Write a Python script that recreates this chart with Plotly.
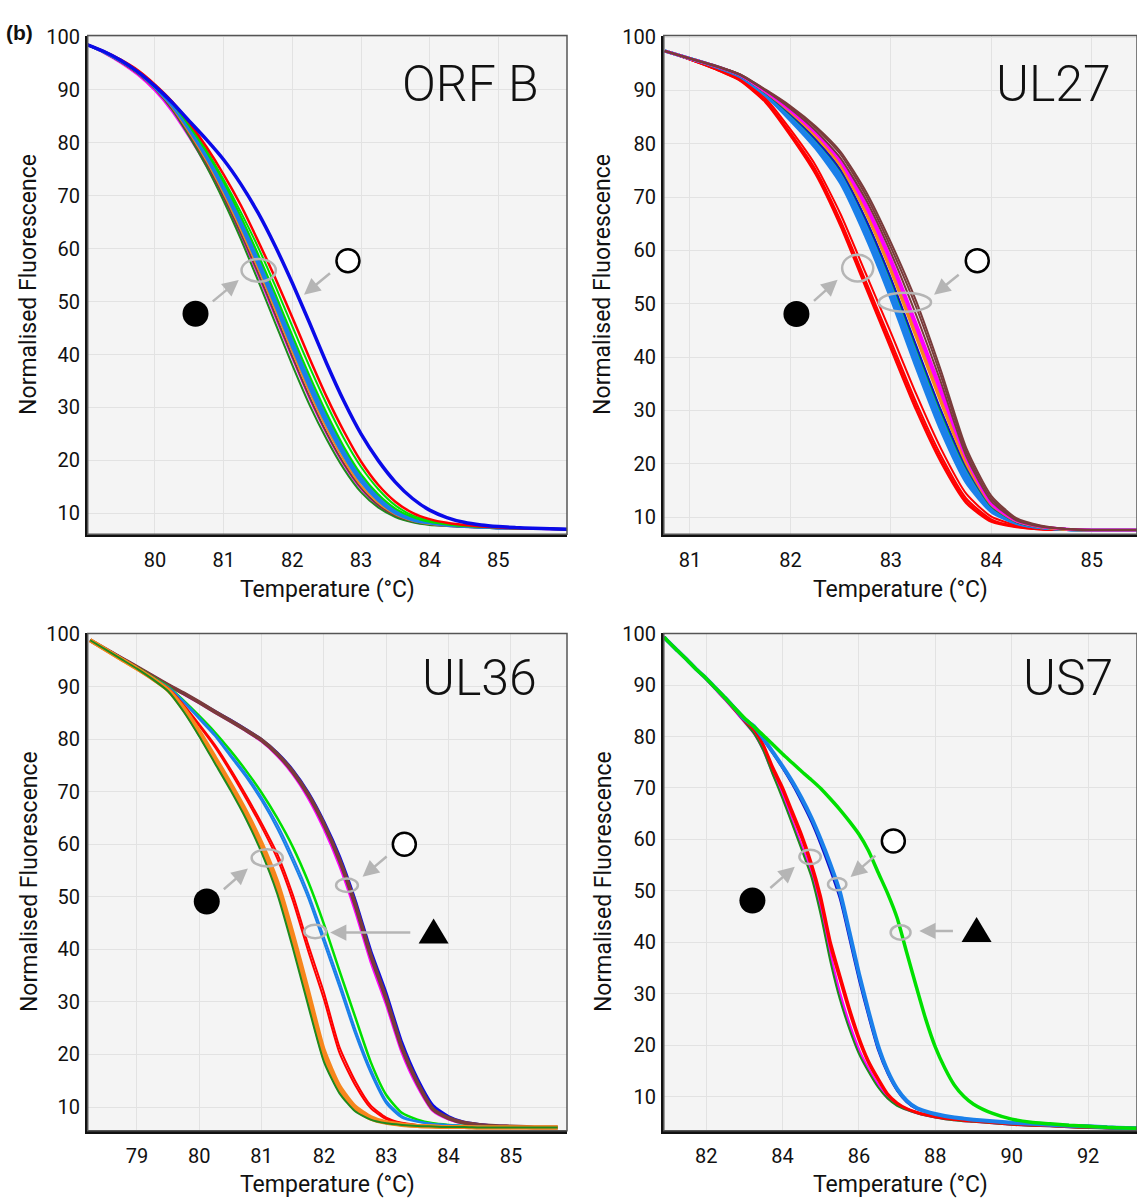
import plotly.graph_objects as go

# ---------------- DATA ----------------
# Panel 1: ORF B
orfb_temp = [79.0, 79.25, 79.5, 79.75, 80.0, 80.25, 80.5, 80.75, 81.0, 81.25, 81.5, 81.75, 82.0, 82.25, 82.5,
             82.75, 83.0, 83.25, 83.5, 83.75, 84.0, 84.25, 84.5, 84.75, 85.0, 85.25, 85.5, 85.75, 86.0]
orfb_magenta = [98.6, 97.0, 95.1, 92.8, 89.8, 85.9, 81.0, 75.6, 69.4, 62.5, 55.1, 47.2, 39.3, 31.7, 25.0, 19.2, 14.6, 11.4, 9.5, 8.4, 7.9, 7.6, 7.4, 7.3, 7.2, 7.1, 7.1, 7.0, 7.0]
orfb_forestgreen = [98.6, 97.1, 95.3, 93.1, 90.2, 86.3, 81.2, 75.5, 69.0, 61.8, 54.0, 46.0, 38.0, 30.5, 24.0, 18.4, 14.0, 11.1, 9.3, 8.3, 7.8, 7.6, 7.4, 7.3, 7.2, 7.2, 7.1, 7.1, 7.0]
orfb_brown = [98.6, 97.1, 95.3, 93.1, 90.2, 86.5, 81.6, 76.1, 69.8, 62.9, 55.5, 47.6, 39.6, 32.0, 25.2, 19.4, 14.8, 11.6, 9.6, 8.5, 8.0, 7.7, 7.5, 7.3, 7.2, 7.2, 7.1, 7.1, 7.0]
orfb_orange = [98.6, 97.1, 95.4, 93.2, 90.3, 86.7, 81.9, 76.6, 70.4, 63.6, 56.3, 48.5, 40.5, 32.9, 26.0, 20.1, 15.3, 12.0, 9.8, 8.6, 8.0, 7.7, 7.5, 7.3, 7.2, 7.2, 7.1, 7.1, 7.0]
orfb_dodger1 = [98.6, 97.2, 95.4, 93.3, 90.4, 86.9, 82.3, 77.1, 71.0, 64.3, 57.0, 49.3, 41.3, 33.7, 26.8, 20.8, 15.9, 12.4, 10.0, 8.7, 8.1, 7.7, 7.5, 7.3, 7.2, 7.2, 7.1, 7.1, 7.0]
orfb_dodger2 = [98.6, 97.2, 95.5, 93.4, 90.5, 87.1, 82.6, 77.5, 71.5, 64.9, 57.7, 50.0, 42.1, 34.5, 27.5, 21.4, 16.4, 12.8, 10.3, 8.9, 8.2, 7.8, 7.5, 7.3, 7.2, 7.2, 7.1, 7.1, 7.0]
orfb_dodger3 = [98.6, 97.2, 95.5, 93.4, 90.6, 87.2, 82.8, 77.8, 71.9, 65.4, 58.3, 50.7, 42.8, 35.2, 28.2, 22.0, 16.9, 13.2, 10.6, 9.1, 8.3, 7.8, 7.6, 7.4, 7.3, 7.2, 7.1, 7.1, 7.0]
orfb_lime1 = [98.6, 97.3, 95.6, 93.6, 90.8, 87.5, 83.2, 78.3, 72.6, 66.1, 59.0, 51.5, 43.6, 36.0, 28.9, 22.6, 17.4, 13.6, 10.9, 9.3, 8.4, 7.9, 7.6, 7.4, 7.3, 7.2, 7.1, 7.1, 7.0]
orfb_lime2 = [98.6, 97.3, 95.6, 93.6, 90.9, 87.6, 83.4, 78.6, 73.0, 66.9, 60.3, 53.0, 45.3, 37.7, 30.6, 24.2, 18.8, 14.6, 11.5, 9.6, 8.6, 8.0, 7.7, 7.5, 7.3, 7.2, 7.1, 7.1, 7.0]
orfb_red = [98.6, 97.3, 95.7, 93.7, 91.0, 87.8, 83.8, 79.2, 74.0, 68.2, 61.5, 54.5, 47.0, 39.3, 32.0, 25.5, 19.8, 15.4, 12.2, 10.1, 8.9, 8.2, 7.8, 7.5, 7.3, 7.2, 7.1, 7.1, 7.0]
orfb_blue = [98.6, 97.3, 95.6, 93.4, 90.7, 87.6, 84.1, 80.6, 76.8, 72.2, 66.8, 60.5, 53.5, 46.0, 38.3, 31.2, 25.0, 20.0, 15.9, 12.8, 10.6, 9.2, 8.3, 7.8, 7.5, 7.3, 7.2, 7.1, 7.0]

# Panel 2: UL27
ul27_temp = [80.75, 81.0, 81.25, 81.5, 81.75, 82.0, 82.25, 82.5, 82.75, 83.0, 83.25, 83.5, 83.75, 84.0, 84.25,
             84.5, 84.75, 85.0, 85.25, 85.5]
ul27_red1 = [97.4, 95.8, 94.0, 91.8, 87.8, 81.5, 74.3, 64.5, 53.0, 41.5, 30.1, 20.2, 12.6, 9.1, 8.1, 7.7, 7.6, 7.6, 7.6, 7.6]
ul27_red2 = [97.4, 95.8, 94.0, 91.9, 88.0, 81.8, 74.7, 65.0, 53.6, 42.2, 30.8, 20.8, 13.0, 9.3, 8.2, 7.7, 7.6, 7.6, 7.6, 7.6]
ul27_red3 = [97.4, 95.8, 94.1, 92.0, 88.2, 82.1, 75.2, 65.6, 54.3, 43.0, 31.6, 21.5, 13.5, 9.6, 8.3, 7.8, 7.6, 7.6, 7.6, 7.6]
ul27_red4 = [97.4, 95.9, 94.2, 92.2, 88.6, 82.7, 76.0, 66.8, 55.7, 44.6, 33.2, 22.8, 14.4, 10.1, 8.5, 7.8, 7.6, 7.6, 7.6, 7.6]
ul27_dodger1 = [97.4, 96.0, 94.5, 92.6, 89.1, 84.4, 79.2, 72.6, 62.6, 51.0, 38.2, 26.2, 16.5, 11.0, 8.8, 8.0, 7.7, 7.6, 7.6, 7.6]
ul27_dodger2 = [97.4, 96.0, 94.5, 92.7, 89.3, 84.8, 79.7, 73.3, 63.4, 52.0, 39.2, 27.1, 17.1, 11.4, 8.9, 8.0, 7.7, 7.6, 7.6, 7.6]
ul27_dodger3 = [97.4, 96.0, 94.6, 92.8, 89.4, 85.1, 80.1, 73.9, 64.2, 52.9, 40.2, 28.0, 17.8, 11.8, 9.1, 8.1, 7.7, 7.6, 7.6, 7.6]
ul27_dodger4 = [97.4, 96.0, 94.6, 92.8, 89.5, 85.3, 80.5, 74.5, 65.0, 53.8, 41.2, 28.9, 18.5, 11.9, 9.0, 8.1, 7.7, 7.6, 7.6, 7.6]
ul27_lime = [97.4, 96.0, 94.6, 92.8, 89.6, 85.5, 80.8, 75.0, 65.8, 54.6, 42.0, 29.7, 19.2, 12.0, 9.1, 8.1, 7.7, 7.6, 7.6, 7.6]
ul27_darkblue = [97.4, 96.0, 94.6, 92.8, 89.6, 85.6, 80.9, 75.1, 65.9, 54.8, 42.3, 30.0, 19.4, 12.1, 9.1, 8.1, 7.7, 7.6, 7.6, 7.6]
ul27_orange1 = [97.4, 96.0, 94.6, 92.9, 89.7, 85.9, 81.4, 75.8, 67.0, 56.1, 43.8, 31.4, 20.0, 12.3, 9.2, 8.1, 7.7, 7.6, 7.6, 7.6]
ul27_orange2 = [97.4, 96.0, 94.6, 92.9, 89.8, 86.1, 81.7, 76.2, 67.6, 56.9, 44.7, 32.3, 20.6, 12.6, 9.3, 8.2, 7.7, 7.6, 7.6, 7.6]
ul27_magenta1 = [97.4, 96.0, 94.6, 92.9, 89.8, 86.2, 82.0, 76.6, 68.2, 57.7, 45.6, 33.2, 21.0, 12.5, 9.3, 8.2, 7.8, 7.6, 7.6, 7.6]
ul27_magenta2 = [97.4, 96.0, 94.6, 92.9, 89.9, 86.4, 82.3, 77.0, 68.8, 58.5, 46.5, 34.1, 21.6, 12.8, 9.4, 8.2, 7.8, 7.6, 7.6, 7.6]
ul27_brown1 = [97.4, 96.0, 94.6, 92.9, 90.0, 86.6, 82.5, 77.3, 69.6, 59.6, 48.0, 35.2, 21.5, 13.0, 9.4, 8.2, 7.8, 7.6, 7.6, 7.6]
ul27_brown2 = [97.4, 96.0, 94.6, 93.0, 90.1, 86.9, 83.0, 78.0, 70.4, 60.6, 49.5, 36.4, 22.3, 13.5, 9.6, 8.3, 7.8, 7.6, 7.6, 7.6]
ul27_brown3 = [97.4, 96.0, 94.7, 93.0, 90.2, 87.1, 83.3, 78.5, 71.1, 61.5, 50.6, 37.4, 23.0, 14.0, 9.8, 8.4, 7.8, 7.6, 7.6, 7.6]

# Panel 3: UL36
ul36_temp = [78.25, 78.5, 78.75, 79.0, 79.25, 79.5, 79.75, 80.0, 80.25, 80.5, 80.75, 81.0, 81.25, 81.5, 81.75,
             82.0, 82.25, 82.5, 82.75, 83.0, 83.25, 83.5, 83.75, 84.0, 84.25, 84.5, 84.75, 85.0, 85.25, 85.5, 85.75]
ul36_magenta = [98.8, 97.1, 95.4, 93.7, 92.0, 90.3, 88.6, 86.9, 85.1, 83.4, 81.6, 79.6, 76.9, 73.4, 68.8, 63.0, 56.0, 47.5, 37.8, 29.6, 20.5, 14.0, 9.3, 7.7, 6.9, 6.6, 6.4, 6.3, 6.2, 6.1, 6.1]
ul36_blue = [98.8, 97.1, 95.4, 93.7, 92.0, 90.3, 88.7, 87.0, 85.3, 83.6, 81.8, 79.9, 77.4, 74.1, 69.8, 64.3, 57.7, 49.4, 39.8, 31.6, 22.3, 15.4, 10.3, 8.2, 7.1, 6.7, 6.4, 6.3, 6.2, 6.1, 6.1]
ul36_maroon = [98.8, 97.1, 95.4, 93.7, 92.0, 90.3, 88.7, 87.0, 85.2, 83.5, 81.7, 79.8, 77.2, 73.8, 69.4, 63.8, 57.0, 48.6, 38.9, 30.6, 21.3, 14.6, 9.6, 7.9, 7.0, 6.6, 6.4, 6.3, 6.2, 6.1, 6.1]
ul36_lime = [98.8, 97.0, 95.2, 93.6, 91.8, 90.0, 87.3, 84.4, 81.3, 77.8, 74.0, 69.8, 65.0, 59.5, 52.8, 44.8, 35.9, 27.2, 18.6, 12.3, 8.9, 7.6, 6.9, 6.6, 6.4, 6.3, 6.2, 6.2, 6.1, 6.1, 6.1]
ul36_dodger1 = [98.8, 97.0, 95.2, 93.5, 91.7, 89.8, 87.0, 83.8, 80.6, 76.7, 72.8, 68.3, 63.0, 56.7, 49.7, 41.3, 32.8, 24.0, 16.5, 10.7, 8.0, 7.2, 6.8, 6.6, 6.4, 6.3, 6.2, 6.2, 6.1, 6.1, 6.1]
ul36_dodger2 = [98.8, 97.0, 95.2, 93.5, 91.7, 89.9, 87.2, 84.1, 80.9, 77.1, 73.3, 68.9, 63.8, 57.6, 50.6, 42.3, 33.8, 24.9, 17.2, 11.2, 8.3, 7.3, 6.8, 6.6, 6.4, 6.3, 6.2, 6.2, 6.1, 6.1, 6.1]
ul36_red1 = [98.8, 97.0, 95.2, 93.4, 91.6, 89.6, 86.3, 82.5, 78.5, 73.8, 68.7, 63.3, 57.3, 49.3, 39.6, 30.5, 20.3, 14.2, 9.8, 7.7, 6.9, 6.5, 6.3, 6.2, 6.2, 6.1, 6.1, 6.1, 6.1, 6.1, 6.1]
ul36_red2 = [98.8, 97.0, 95.2, 93.4, 91.6, 89.7, 86.5, 82.8, 78.9, 74.3, 69.3, 64.0, 58.2, 50.4, 40.8, 31.8, 21.4, 15.0, 10.3, 8.0, 7.0, 6.6, 6.3, 6.2, 6.2, 6.1, 6.1, 6.1, 6.1, 6.1, 6.1]
ul36_orange1 = [98.8, 97.0, 95.2, 93.4, 91.5, 89.3, 85.6, 81.0, 76.0, 71.0, 65.6, 59.3, 51.8, 41.7, 30.5, 19.5, 13.2, 9.6, 7.8, 7.0, 6.6, 6.4, 6.3, 6.2, 6.2, 6.1, 6.1, 6.1, 6.1, 6.1, 6.1]
ul36_orange2 = [98.8, 97.0, 95.2, 93.4, 91.5, 89.4, 85.9, 81.5, 76.6, 71.6, 66.3, 60.2, 52.9, 43.0, 32.0, 20.8, 14.0, 10.1, 8.1, 7.1, 6.7, 6.4, 6.3, 6.2, 6.2, 6.1, 6.1, 6.1, 6.1, 6.1, 6.1]
ul36_forestgreen = [98.8, 97.0, 95.2, 93.4, 91.4, 89.1, 85.2, 80.5, 75.4, 70.3, 64.8, 58.4, 50.6, 40.3, 29.2, 18.6, 12.6, 9.2, 7.6, 6.9, 6.6, 6.4, 6.3, 6.2, 6.2, 6.1, 6.1, 6.1, 6.1, 6.1, 6.1]

# Panel 4: US7
us7_temp = [80.9, 81.0, 81.25, 81.5, 81.75, 82.0, 82.25, 82.5, 82.75, 83.0, 83.25, 83.5, 83.75, 84.0, 84.25,
            84.5, 84.75, 85.0, 85.25, 85.5, 85.75, 86.0, 86.25, 86.5, 86.75, 87.0, 87.25, 87.5, 87.75, 88.0,
            88.25, 88.5, 88.75, 89.0, 89.5, 90.0, 90.5, 91.0, 91.5, 92.0, 92.5, 93.0, 93.5]
us7_magenta = [99.3, 98.5, 96.7, 94.9, 93.0, 91.2, 89.2, 87.2, 85.1, 82.9, 80.7, 77.4, 72.8, 68.8, 63.5, 58.6, 53.6, 46.4, 37.5, 30.0, 24.0, 19.0, 15.3, 12.2, 9.8, 8.4, 7.5, 6.9, 6.4, 6.0, 5.7, 5.5, 5.3, 5.2, 4.9, 4.6, 4.4, 4.3, 4.1, 4.0, 3.9, 3.8, 3.7]
us7_forestgreen = [99.3, 98.5, 96.7, 94.9, 93.0, 91.2, 89.2, 87.2, 85.1, 82.9, 80.6, 77.2, 72.5, 67.9, 63.0, 58.0, 52.8, 45.3, 36.3, 28.9, 23.1, 18.3, 14.8, 11.8, 9.6, 8.2, 7.4, 6.8, 6.3, 5.9, 5.6, 5.4, 5.2, 5.1, 4.8, 4.5, 4.3, 4.2, 4.0, 3.9, 3.8, 3.7, 3.6]
us7_red1 = [99.3, 98.5, 96.7, 94.9, 93.0, 91.2, 89.2, 87.3, 85.2, 83.1, 81.4, 78.4, 74.0, 70.2, 65.6, 61.0, 55.6, 49.0, 40.3, 33.7, 27.3, 21.6, 17.0, 13.6, 10.6, 8.8, 7.7, 7.0, 6.5, 6.1, 5.8, 5.6, 5.4, 5.3, 5.0, 4.7, 4.5, 4.3, 4.2, 4.1, 4.0, 3.9, 3.8]
us7_red2 = [99.3, 98.5, 96.7, 94.9, 93.0, 91.2, 89.2, 87.3, 85.2, 83.1, 81.3, 78.1, 73.5, 69.6, 64.9, 60.2, 54.8, 48.0, 39.3, 32.7, 26.4, 20.9, 16.5, 13.2, 10.3, 8.6, 7.6, 6.9, 6.4, 6.0, 5.7, 5.5, 5.3, 5.2, 4.9, 4.6, 4.4, 4.3, 4.1, 4.0, 3.9, 3.8, 3.7]
us7_brown = [99.3, 98.5, 96.7, 94.9, 93.0, 91.3, 89.4, 87.5, 85.5, 83.4, 81.9, 79.5, 76.8, 74.0, 71.0, 67.6, 63.8, 59.4, 54.5, 49.0, 41.2, 33.2, 26.0, 19.4, 14.7, 11.3, 9.0, 7.7, 7.1, 6.6, 6.2, 5.9, 5.7, 5.5, 5.2, 5.0, 4.8, 4.6, 4.4, 4.3, 4.1, 4.0, 3.9]
us7_darkblue = [99.3, 98.5, 96.7, 94.9, 93.0, 91.3, 89.4, 87.5, 85.5, 83.4, 81.8, 79.3, 76.6, 73.8, 70.7, 67.2, 63.4, 58.9, 53.9, 48.4, 40.6, 32.6, 25.5, 19.0, 14.4, 11.1, 8.9, 7.6, 7.0, 6.5, 6.1, 5.9, 5.7, 5.5, 5.2, 4.9, 4.7, 4.5, 4.3, 4.2, 4.0, 3.9, 3.8]
us7_dodger = [99.3, 98.5, 96.7, 94.9, 93.0, 91.3, 89.4, 87.5, 85.5, 83.4, 82.0, 79.6, 76.9, 74.2, 71.3, 68.0, 64.3, 60.0, 55.2, 49.8, 42.0, 33.9, 26.6, 19.9, 15.0, 11.5, 9.2, 7.8, 7.1, 6.6, 6.2, 5.9, 5.7, 5.5, 5.2, 4.9, 4.7, 4.5, 4.3, 4.2, 4.0, 3.9, 3.8]
us7_lime = [99.3, 98.5, 96.7, 94.9, 93.0, 91.3, 89.4, 87.5, 85.5, 83.6, 81.9, 80.2, 78.4, 76.6, 74.9, 73.2, 71.6, 69.9, 67.9, 65.8, 63.5, 61.0, 57.8, 53.6, 49.5, 44.7, 38.0, 31.4, 25.0, 19.6, 15.5, 12.2, 10.0, 8.5, 6.7, 5.6, 5.0, 4.7, 4.4, 4.2, 4.0, 3.9, 3.8]

panel_titles = ["ORF B", "UL27", "UL36", "US7"]
x_tick_values = [[80, 81, 82, 83, 84, 85], [81, 82, 83, 84, 85], [79, 80, 81, 82, 83, 84, 85], [82, 84, 86, 88, 90, 92]]
y_tick_values = [10, 20, 30, 40, 50, 60, 70, 80, 90, 100]

# ---------------- STYLE ----------------
RED = "#ff0000"; LIME = "#00e000"; FOREST = "#1e8a1e"; BROWN = "#7a3b3b"; ORANGE = "#f7861c"
DODGER = "#1b80ea"; BLUE = "#0a0ae8"; MAGENTA = "#ff00ff"; DARKBLUE = "#1010c8"
ANN = "#b5b5b5"

W, H = 1137, 1201
def px_x(p): return p / W
def px_y(p): return 1 - p / H

panels = [
    dict(xd=[px_x(87.7), px_x(567)], yd=[px_y(527.5), px_y(23.8)], xr=[79.02, 86.0], yr=[6.05, 100.26]),
    dict(xd=[px_x(663.8), 1.0], yd=[px_y(527.5), px_y(23.8)], xr=[80.74, 85.45], yr=[6.8, 100.3]),
    dict(xd=[px_x(87.7), px_x(567)], yd=[px_y(1130), px_y(627.7)], xr=[78.21, 85.9], yr=[5.5, 100.1]),
    dict(xd=[px_x(663.8), 1.0], yd=[px_y(1130), px_y(627.7)], xr=[80.89, 93.28], yr=[3.35, 100.05]),
]

curves = [
    [(orfb_temp, orfb_magenta, MAGENTA, 2), (orfb_temp, orfb_forestgreen, FOREST, 2), (orfb_temp, orfb_brown, BROWN, 2),
     (orfb_temp, orfb_orange, ORANGE, 2), (orfb_temp, orfb_dodger1, DODGER, 2.5), (orfb_temp, orfb_dodger2, DODGER, 2.5),
     (orfb_temp, orfb_dodger3, DODGER, 2.5), (orfb_temp, orfb_lime1, LIME, 2), (orfb_temp, orfb_lime2, LIME, 2),
     (orfb_temp, orfb_red, RED, 2.5), (orfb_temp, orfb_blue, BLUE, 3.5)],
    [(ul27_temp, ul27_red1, RED, 2), (ul27_temp, ul27_red2, RED, 2), (ul27_temp, ul27_red3, RED, 2), (ul27_temp, ul27_red4, RED, 2),
     (ul27_temp, ul27_dodger1, DODGER, 3), (ul27_temp, ul27_dodger2, DODGER, 3), (ul27_temp, ul27_dodger3, DODGER, 3),
     (ul27_temp, ul27_dodger4, DODGER, 3), (ul27_temp, ul27_lime, LIME, 2), (ul27_temp, ul27_darkblue, DARKBLUE, 2),
     (ul27_temp, ul27_orange1, ORANGE, 2.5), (ul27_temp, ul27_orange2, ORANGE, 2.5), (ul27_temp, ul27_magenta1, MAGENTA, 2.5),
     (ul27_temp, ul27_magenta2, MAGENTA, 2.5), (ul27_temp, ul27_brown1, BROWN, 2), (ul27_temp, ul27_brown2, BROWN, 2),
     (ul27_temp, ul27_brown3, BROWN, 2)],
    [(ul36_temp, ul36_magenta, MAGENTA, 3), (ul36_temp, ul36_blue, BLUE, 3), (ul36_temp, ul36_maroon, BROWN, 4),
     (ul36_temp, ul36_lime, LIME, 2.5), (ul36_temp, ul36_dodger1, DODGER, 2), (ul36_temp, ul36_dodger2, DODGER, 2),
     (ul36_temp, ul36_red1, RED, 2), (ul36_temp, ul36_red2, RED, 2), (ul36_temp, ul36_orange1, ORANGE, 4),
     (ul36_temp, ul36_orange2, ORANGE, 4), (ul36_temp, ul36_forestgreen, FOREST, 2)],
    [(us7_temp, us7_magenta, MAGENTA, 3), (us7_temp, us7_forestgreen, FOREST, 2), (us7_temp, us7_red1, RED, 2.5),
     (us7_temp, us7_red2, RED, 2.5), (us7_temp, us7_brown, BROWN, 2), (us7_temp, us7_darkblue, DARKBLUE, 2),
     (us7_temp, us7_dodger, DODGER, 4), (us7_temp, us7_lime, LIME, 3.5)],
]

# annotation decorations (data coords of each panel)
filled_dots = [(80.59, 47.7), (82.06, 48.1), (80.12, 49.1), (83.21, 48.1)]
open_dots = [(82.81, 57.7), (83.86, 58.1), (83.29, 60.0), (86.90, 59.7)]
triangles = [None, None, (83.76, 43.2), (89.08, 42.2)]
ellipses = [
    [(81.51, 55.9, 0.25, 2.15)],
    [(82.67, 56.7, 0.155, 2.5), (83.14, 50.3, 0.26, 1.78)],
    [(81.09, 57.4, 0.25, 1.63), (82.37, 52.2, 0.175, 1.27), (81.86, 43.4, 0.175, 1.27)],
    [(84.72, 56.6, 0.28, 1.4), (85.43, 51.3, 0.24, 1.2), (87.09, 41.9, 0.26, 1.4)],
]
arrows = [  # (tail_x, tail_y, head_x, head_y)
    [(80.82, 49.8, 81.22, 54.1), (82.57, 55.6, 82.17, 51.3)],
    [(82.22, 50.3, 82.47, 54.5), (83.69, 55.7, 83.43, 51.7)],
    [(80.37, 51.2, 80.78, 55.4), (83.03, 57.9, 82.62, 53.8), (83.41, 43.2, 82.10, 43.2)],
    [(83.64, 50.3, 84.32, 54.7), (86.47, 57.1, 85.78, 52.7), (88.50, 42.2, 87.58, 42.2)],
]
title_pos = [(541, 73), (1113, 73), (539, 673), (1115, 673)]

fig = go.Figure()
layout = dict(width=W, height=H, margin=dict(l=0, r=0, t=0, b=0), paper_bgcolor="white",
              plot_bgcolor="#f4f4f4", showlegend=False, shapes=[], annotations=[])

FONT = "Roboto, 'DejaVu Sans', sans-serif"
for i, p in enumerate(panels):
    s = "" if i == 0 else str(i + 1)
    xa, ya = "x" + s, "y" + s
    layout["xaxis" + s] = dict(domain=p["xd"], range=p["xr"], anchor=ya, tickvals=x_tick_values[i],
                               showgrid=True, gridcolor="#e2e2e2", gridwidth=1, zeroline=False,
                               showline=True, linecolor="#111", linewidth=2.5, ticks="outside", ticklen=6,
                               tickcolor="rgba(0,0,0,0)", tickfont=dict(family=FONT, size=20, color="#111"),
                               fixedrange=True)
    layout["yaxis" + s] = dict(domain=p["yd"], range=p["yr"], anchor=xa, tickvals=y_tick_values,
                               showgrid=True, gridcolor="#e2e2e2", gridwidth=1, zeroline=False,
                               showline=True, linecolor="#111", linewidth=2.5, ticks="outside", ticklen=1,
                               tickcolor="rgba(0,0,0,0)", tickfont=dict(family=FONT, size=20, color="#111"),
                               fixedrange=True)
    layout["shapes"].append(dict(type="rect", xref=xa + " domain", yref=ya + " domain", x0=0, x1=1, y0=0, y1=1,
                                 line=dict(color="#555", width=1.5), layer="above"))
    for (tx, ty, col, w) in curves[i]:
        fig.add_trace(go.Scatter(x=tx, y=ty, mode="lines", line=dict(color=col, width=w, shape="spline", smoothing=0.6),
                                 xaxis=xa, yaxis=ya, hoverinfo="skip"))
    for (cx, cy, hw, hh) in ellipses[i]:
        layout["shapes"].append(dict(type="circle", xref=xa, yref=ya, x0=cx - hw, x1=cx + hw, y0=cy - hh, y1=cy + hh,
                                     line=dict(color=ANN, width=2.5), layer="above"))
    for (tx, ty, hx, hy) in arrows[i]:
        layout["annotations"].append(dict(x=hx, y=hy, ax=tx, ay=ty, xref=xa, yref=ya, axref=xa, ayref=ya, text="",
                                          showarrow=True, arrowhead=2, arrowsize=1.3, arrowwidth=2.5,
                                          arrowcolor=ANN, standoff=0))
    fx, fy = filled_dots[i]
    fig.add_trace(go.Scatter(x=[fx], y=[fy], mode="markers", xaxis=xa, yaxis=ya, hoverinfo="skip",
                             marker=dict(symbol="circle", size=26, color="black")))
    ox, oy = open_dots[i]
    fig.add_trace(go.Scatter(x=[ox], y=[oy], mode="markers", xaxis=xa, yaxis=ya, hoverinfo="skip",
                             marker=dict(symbol="circle", size=23, color="white", line=dict(color="black", width=2.5))))
    if triangles[i]:
        tx, ty = triangles[i]
        layout["shapes"].append(dict(type="path", xref=xa, yref=ya, xsizemode="pixel", ysizemode="pixel",
                                     xanchor=tx, yanchor=ty, path="M -15,-11 L 15,-11 L 0,14 Z",
                                     fillcolor="black", line=dict(width=0), layer="above"))
    px_, py_ = title_pos[i]
    layout["annotations"].append(dict(x=px_x(px_), y=px_y(py_), xref="paper", yref="paper", xanchor="right",
                                      yanchor="middle", showarrow=False, text=panel_titles[i],
                                      font=dict(family=FONT, size=50, color="#111", weight=300)))
    xc = (p["xd"][0] + p["xd"][1]) / 2
    yc = (p["yd"][0] + p["yd"][1]) / 2
    xt_y = px_y(583) if i < 2 else px_y(1184)
    yt_x = px_x(29) if i in (0, 2) else px_x(603)
    layout["annotations"].append(dict(x=xc, y=xt_y, xref="paper", yref="paper", xanchor="center", yanchor="middle",
                                      showarrow=False, text="Temperature (°C)",
                                      font=dict(family=FONT, size=23, color="#111")))
    layout["annotations"].append(dict(x=yt_x, y=yc, xref="paper", yref="paper", xanchor="center", yanchor="middle",
                                      showarrow=False, text="Normalised Fluorescence", textangle=-90,
                                      font=dict(family=FONT, size=23, color="#111")))

layout["annotations"].append(dict(x=px_x(4), y=px_y(21), xref="paper", yref="paper", xanchor="left", yanchor="middle",
                                  showarrow=False, text="<b>(b)</b>",
                                  font=dict(family="'Liberation Sans', Arial, sans-serif", size=21, color="#111")))

fig.update_layout(**layout)
fig.write_html(
    "out.html", config={"displayModeBar": False},
    post_script=("document.documentElement.style.overflow='hidden';"
                 "document.body.style.margin='0';document.body.style.padding='0';"
                 "document.body.style.overflow='hidden';"
                 "var d=document.getElementById('{plot_id}');"
                 "d.style.position='absolute';d.style.top='0px';d.style.left='0px';"))
